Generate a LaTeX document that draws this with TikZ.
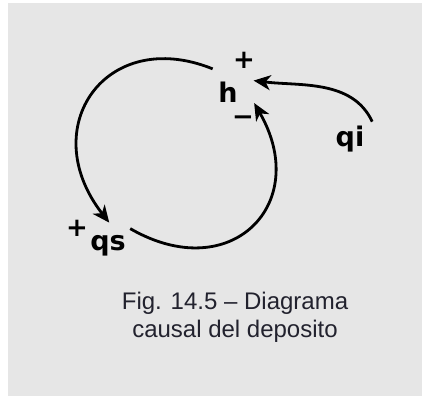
\documentclass[tikz,border=0pt]{standalone}
\usepackage{fontspec}
\setmainfont{Liberation Sans}
\newfontfamily\varfont{DejaVu Sans Bold}
\usepackage{tikz}
\usetikzlibrary{arrows.meta}
\definecolor{panel}{HTML}{E6E6E6}
\definecolor{captext}{HTML}{22222E}

\begin{document}
\begin{tikzpicture}[x=1pt, y=1pt,
  var/.style={circle, minimum size=56pt, inner sep=0pt, font=\fontsize{27}{32}\selectfont\varfont},
  sign/.style={inner sep=0pt, font=\fontsize{26}{30}\selectfont\varfont},
  arr/.style={-{Stealth[length=17pt, width=15pt, inset=5pt]}, line width=2.8pt},
]
\useasboundingbox (0,0) rectangle (422,396);
\fill[white] (0,0) rectangle (422,396);
\fill[panel] (8,0) rectangle (422,393);

\node[var] (h)  at (228,303.5) {h};
\node[var] (qs) at (108,150) {qs};
\node[var] (qi) at (350,257) {qi};

\node[sign] (hplus)  at (244,336) {+};
\node[sign] (hminus) at (243,275) {−};
\node[sign] (qsplus) at (77,168) {+};

\node[align=center, text=captext, font=\fontsize{24}{28}\selectfont] (cap) at (235,79)
  {Fig. 14.5 – Diagrama\\causal del deposito};

\draw[arr, shorten >=-6pt] (h.123) to[out=158, in=128, looseness=1.6] (qs.95);
\draw[arr] (qs.38) to[out=-30, in=-60, looseness=1.68] (h.-22);
\draw[arr] (qi.38) to[out=115, in=-7, looseness=0.95] (h.25);
\end{tikzpicture}
\end{document}
